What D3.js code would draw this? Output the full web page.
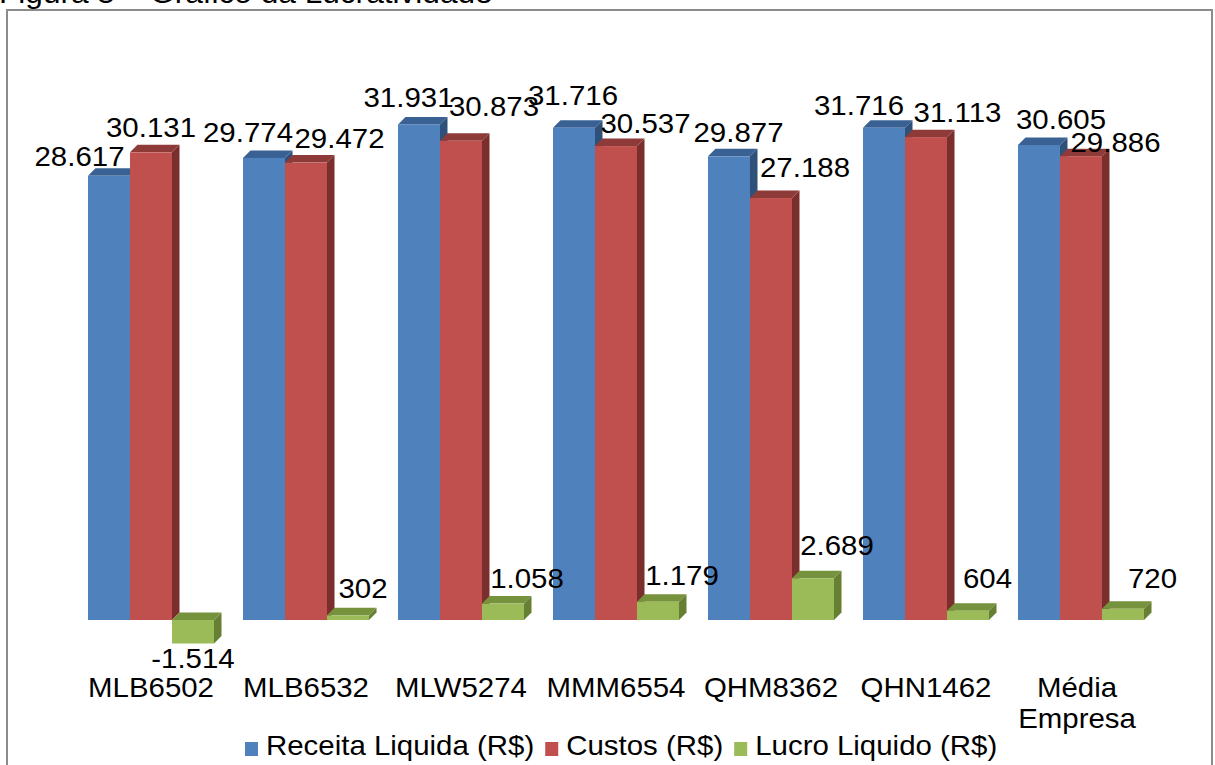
<!DOCTYPE html>
<html>
<head>
<meta charset="utf-8">
<script src="https://cdn.jsdelivr.net/npm/d3@7"></script>
<style>
  html, body { margin: 0; padding: 0; background: #fff; }
  svg { display: block; font-family: "Liberation Sans", Arial, sans-serif; }
</style>
</head>
<body>
<svg id="chart" width="1215" height="765"></svg>
<script>
// Lucratividade por equipamento (valores em R$)
const categories = ["MLB6502", "MLB6532", "MLW5274", "MMM6554", "QHM8362", "QHN1462", "Média Empresa"];
const seriesNames = ["Receita Liquida (R$)", "Custos (R$)", "Lucro Liquido (R$)"];
const receita = [28617, 29774, 31931, 31716, 29877, 31716, 30605];
const custos  = [30131, 29472, 30873, 30537, 27188, 31113, 29886];
const lucro   = [-1514, 302, 1058, 1179, 2689, 604, 720];
const titleText = "Figura 5 – Gráfico da Lucratividade";

// Appearance
const palette = [
  { front: "#4F81BD", top: "#3A6194", side: "#2F5079" },
  { front: "#C0504D", top: "#8E3A38", side: "#7A2F2D" },
  { front: "#9BBB59", top: "#76923C", side: "#667F33" }
];
const depth = { dx: 7.5, dy: 7.5 };
const stretch = 1.09;      // horizontal stretch of all text
const fontSize = 27;

// Label placement tweaks per series (dx from bar centre, gap above bar top)
const labelDx = [
  [-29.5, -16, -10.5, -1, 9.5, -25, 22],
  [0, 33.5, 33, 29.5, 34, 31.5, 34.5],
  [0, 15, 24, 24, 24, 19.5, 29.5]
];
const labelGap = [
  [10, 16, 17, 23, 14, 13, 16],
  [15, 14.6, 25, 13, 21, 15, 4],
  [-24.5, 17, 15.6, 16.7, 23, 22.6, 21]
];

const seriesValues = [receita, custos, lucro];
const fmt = d3.formatLocale({ decimal: ",", thousands: ".", grouping: [3], currency: ["R$", ""], minus: "-" }).format(",d");

const svg = d3.select("#chart");

// Frame
svg.append("path")
  .attr("d", "M7,765 V10 H1212 V765")
  .attr("fill", "none")
  .attr("stroke", "#8c8c8c")
  .attr("stroke-width", 2);

function stretchedText(sel, x, y, txt, anchor) {
  return sel.append("text")
    .attr("transform", `translate(${x},${y}) scale(${stretch},1)`)
    .attr("text-anchor", anchor || "middle")
    .attr("font-size", fontSize)
    .attr("fill", "#000")
    .text(txt);
}

// Title (runs off the top edge of the page)
svg.append("text")
  .attr("transform", `translate(-1,3) scale(${stretch},1)`)
  .attr("font-size", 29)
  .attr("fill", "#000")
  .text(titleText);

// Scales
const x = d3.scaleBand()
  .domain(categories)
  .range([73.5, 1158.5])
  .paddingInner(0.187)
  .paddingOuter(0.0935);
const xs = d3.scaleBand()
  .domain(seriesNames)
  .range([0, x.bandwidth()]);
const y = d3.scaleLinear()
  .domain([0, 30000])
  .range([620, 154.4]);

const plot = svg.append("g");

// Draw a 3D bar: front, top and right-side faces
function bar3d(g, x0, w, v, col) {
  const y0 = y(0), yv = y(v);
  const top = Math.min(y0, yv), bottom = Math.max(y0, yv);
  const dx = depth.dx, dy = depth.dy;
  g.append("path")
    .attr("d", `M${x0 + w},${top} L${x0 + w + dx},${top - dy} L${x0 + w + dx},${bottom - dy} L${x0 + w},${bottom} Z`)
    .attr("fill", col.side);
  g.append("path")
    .attr("d", `M${x0},${top} L${x0 + dx},${top - dy} L${x0 + w + dx},${top - dy} L${x0 + w},${top} Z`)
    .attr("fill", col.top);
  g.append("rect")
    .attr("x", x0).attr("y", top)
    .attr("width", w).attr("height", bottom - top)
    .attr("fill", col.front);
}

categories.forEach((c, i) => {
  const g = plot.append("g").attr("class", "group");
  seriesNames.forEach((s, k) => {
    bar3d(g, x(c) + xs(s), xs.bandwidth(), seriesValues[k][i], palette[k]);
  });
});

// Value labels
const labels = svg.append("g").attr("class", "labels");
categories.forEach((c, i) => {
  seriesNames.forEach((s, k) => {
    const v = seriesValues[k][i];
    const cx = x(c) + xs(s) + xs.bandwidth() / 2 + labelDx[k][i];
    const by = (v >= 0 ? y(v) : y(v)) - labelGap[k][i];
    stretchedText(labels, cx, by, fmt(v));
  });
});

// Category axis labels
const axis = svg.append("g").attr("class", "x-axis");
categories.forEach(c => {
  const cx = x(c) + x.bandwidth() / 2 - (c.includes(" ") ? 4 : 0);
  c.split(" ").forEach((p, j) => stretchedText(axis, cx, 697 + j * 31, p));
});

// Legend
const legend = svg.append("g").attr("class", "legend");
let lx = 245;
seriesNames.forEach((s, k) => {
  legend.append("rect")
    .attr("x", lx).attr("y", 742)
    .attr("width", 13).attr("height", 14)
    .attr("fill", palette[k].front);
  const t = stretchedText(legend, lx + 21, 755, s, "start");
  const w = t.node().getComputedTextLength() * stretch;
  lx += 21 + w + 11;
});
</script>
</body>
</html>
